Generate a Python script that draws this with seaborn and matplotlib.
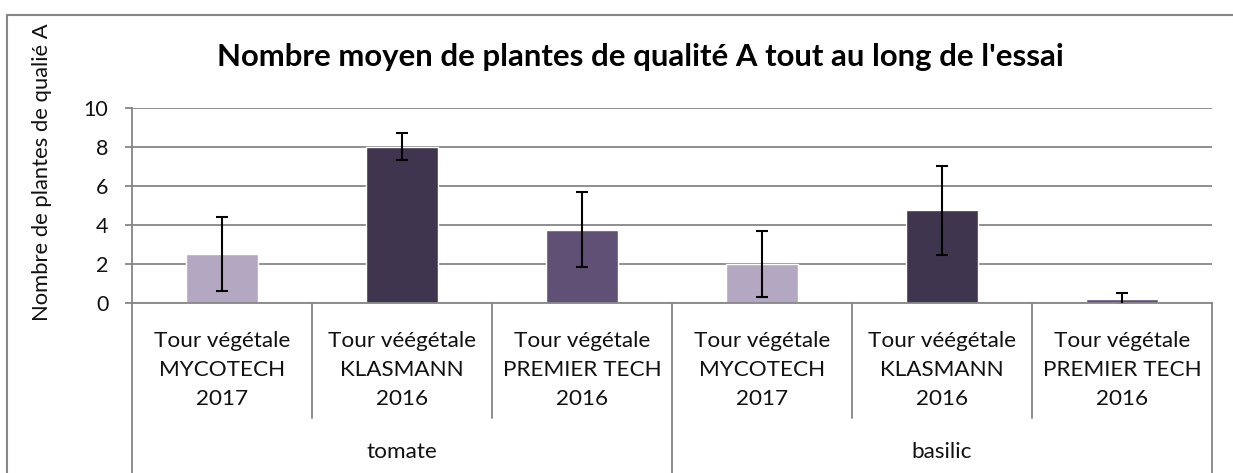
import pandas as pd
import matplotlib.pyplot as plt
from matplotlib.lines import Line2D
import seaborn as sns

# data
cultures = ['tomate', 'tomate', 'tomate', 'basilic', 'basilic', 'basilic']
substrats = ['Tour végétale\nMYCOTECH\n2017',
             'Tour véégétale\nKLASMANN\n2016',
             'Tour végétale\nPREMIER TECH\n2016',
             'Tour végétale\nMYCOTECH\n2017',
             'Tour véégétale\nKLASMANN\n2016',
             'Tour végétale\nPREMIER TECH\n2016']
moyennes = [2.5, 8.0, 3.75, 2.0, 4.75, 0.2]
erreurs = [1.9, 0.7, 1.93, 1.7, 2.28, 0.3]
groupes = ['MYCOTECH', 'KLASMANN', 'PREMIER TECH', 'MYCOTECH', 'KLASMANN', 'PREMIER TECH']
couleurs = {'MYCOTECH': '#B3A2C7', 'KLASMANN': '#403152', 'PREMIER TECH': '#604A7B'}

df = pd.DataFrame({
    'cle': [f'{c} {i}' for i, c in enumerate(cultures)],
    'culture': cultures,
    'substrat': substrats,
    'groupe': groupes,
    'moyenne': moyennes,
    'erreur': erreurs,
})

sns.set_style('white')
plt.rcParams['font.family'] = ['Lato', 'DejaVu Sans']

fig = plt.figure(figsize=(12.33, 4.73), dpi=100)
ax = fig.add_axes([0.1071, 0.360, 0.8759, 0.4123])

sns.barplot(data=df, x='cle', y='moyenne', hue='groupe', palette=couleurs,
            dodge=False, width=0.4, legend=False, errorbar=None, ax=ax)
ax.errorbar(range(len(df)), df['moyenne'], yerr=df['erreur'], fmt='none',
            ecolor='black', elinewidth=1.5, capsize=4, capthick=1.5, zorder=5)

grid_col = '#868686'
ax.set_ylim(0, 10)
ax.set_xlim(-0.5, len(df) - 0.5)
ax.set_yticks(range(0, 11, 2))
ax.yaxis.grid(True, color=grid_col, linewidth=1.3)
ax.set_axisbelow(True)
ax.tick_params(axis='y', left=True, length=5, width=1.3, color=grid_col,
               pad=12, labelsize=15.5, labelcolor='#111111')
ax.set_xticks([])
ax.set_xlabel('')
ax.set_ylabel('')
for s in ['top', 'right']:
    ax.spines[s].set_visible(False)
ax.spines['left'].set_color(grid_col)
ax.spines['left'].set_linewidth(1.3)
ax.spines['bottom'].set_color(grid_col)
ax.spines['bottom'].set_linewidth(1.3)

# two-level category axis
tr = ax.get_xaxis_transform()
for i, lab in enumerate(df['substrat']):
    ax.text(i, -0.345, lab, transform=tr, ha='center', va='center',
            fontsize=16.2, linespacing=1.55, color='#111111', clip_on=False)
for b in [0.5, 1.5, 3.5, 4.5]:
    ax.plot([b, b], [0, -0.59], transform=tr, color=grid_col, lw=1.3, clip_on=False)
for b in [-0.5, 2.5, 5.5]:
    ax.plot([b, b], [0, -1.0], transform=tr, color=grid_col, lw=1.3, clip_on=False)
for name, pos in [('tomate', 1), ('basilic', 4)]:
    ax.text(pos, -0.766, name, transform=tr, ha='center', va='center',
            fontsize=16.2, color='#111111', clip_on=False)

fig.text(0.519, 0.879, "Nombre moyen de plantes de qualité A tout au long de l'essai",
         ha='center', va='center', fontsize=22.4, fontweight='bold', color='black')
fig.text(0.034, 0.636, 'Nombre de plantes de qualié A', rotation=90,
         ha='center', va='center', fontsize=15.8, color='#111111')

# chart frame (left and top edges visible)
fig.add_artist(Line2D([0.0057, 0.0057], [0, 0.968], color=grid_col, lw=1.5))
fig.add_artist(Line2D([0.0057, 1.0], [0.968, 0.968], color=grid_col, lw=1.5))

plt.savefig('out.png', dpi=100)
